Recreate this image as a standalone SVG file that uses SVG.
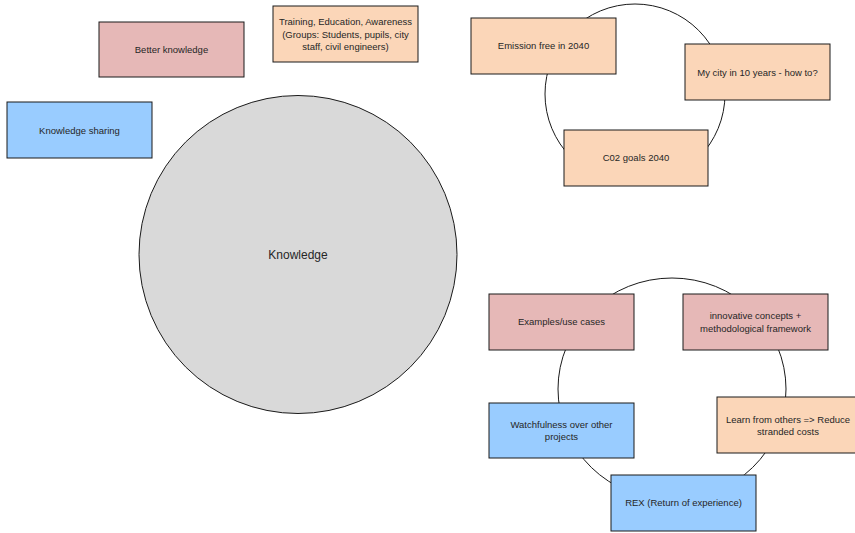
<svg xmlns="http://www.w3.org/2000/svg" width="855" height="533" viewBox="0 0 855 533">
  <style>
    .box { stroke: #1a1a1a; stroke-width: 1; }
    .pink { fill: #e6b8b7; }
    .peach { fill: #fbd6b8; }
    .blue { fill: #99ccff; }
    .ring { fill: none; stroke: #1a1a1a; stroke-width: 1; }
    text { font-family: "Liberation Sans", Arial, sans-serif; font-size: 9.5px; fill: #262626; text-anchor: middle; }
    .big { font-size: 12px; }
  </style>
  <rect width="855" height="533" fill="#ffffff"/>

  <!-- cycle rings behind boxes -->
  <g id="connectors">
    <circle class="ring" cx="635" cy="94" r="90"/>
    <ellipse class="ring" cx="672" cy="389" rx="114" ry="111"/>
  </g>

  <g id="knowledge">
    <circle cx="298" cy="254.5" r="159" fill="#d9d9d9" stroke="#1a1a1a" stroke-width="1"/>
    <text class="big" x="298" y="259">Knowledge</text>
  </g>

  <g id="better-knowledge">
    <rect class="box pink" x="99" y="22" width="145" height="55"/>
    <text x="171.5" y="53">Better knowledge</text>
  </g>

  <g id="training">
    <rect class="box peach" x="273" y="6" width="145" height="56"/>
    <text x="345.5" y="25">Training, Education, Awareness</text>
    <text x="345.5" y="37.5">(Groups: Students, pupils, city</text>
    <text x="345.5" y="50">staff, civil engineers)</text>
  </g>

  <g id="knowledge-sharing">
    <rect class="box blue" x="7" y="102" width="145" height="56"/>
    <text x="79.5" y="133.5">Knowledge sharing</text>
  </g>

  <g id="emission-free">
    <rect class="box peach" x="471" y="18" width="145" height="56"/>
    <text x="543.5" y="49">Emission free in 2040</text>
  </g>

  <g id="my-city">
    <rect class="box peach" x="685" y="44" width="145" height="56"/>
    <text x="757.5" y="75.5">My city in 10 years - how to?</text>
  </g>

  <g id="co2-goals">
    <rect class="box peach" x="564" y="130" width="144" height="56"/>
    <text x="636" y="161">C02 goals 2040</text>
  </g>

  <g id="examples">
    <rect class="box pink" x="489" y="294" width="145" height="56"/>
    <text x="561.5" y="325">Examples/use cases</text>
  </g>

  <g id="innovative">
    <rect class="box pink" x="683" y="294" width="145" height="56"/>
    <text x="755.5" y="319">innovative concepts +</text>
    <text x="755.5" y="332">methodological framework</text>
  </g>

  <g id="watchfulness">
    <rect class="box blue" x="489" y="403" width="145" height="55"/>
    <text x="561.5" y="428">Watchfulness over other</text>
    <text x="561.5" y="440">projects</text>
  </g>

  <g id="learn">
    <rect class="box peach" x="717" y="397" width="145" height="56"/>
    <text x="788" y="422.5">Learn from others =&gt; Reduce</text>
    <text x="788" y="435">stranded costs</text>
  </g>

  <g id="rex">
    <rect class="box blue" x="611" y="475" width="145" height="56"/>
    <text x="683.5" y="506">REX (Return of experience)</text>
  </g>
</svg>
